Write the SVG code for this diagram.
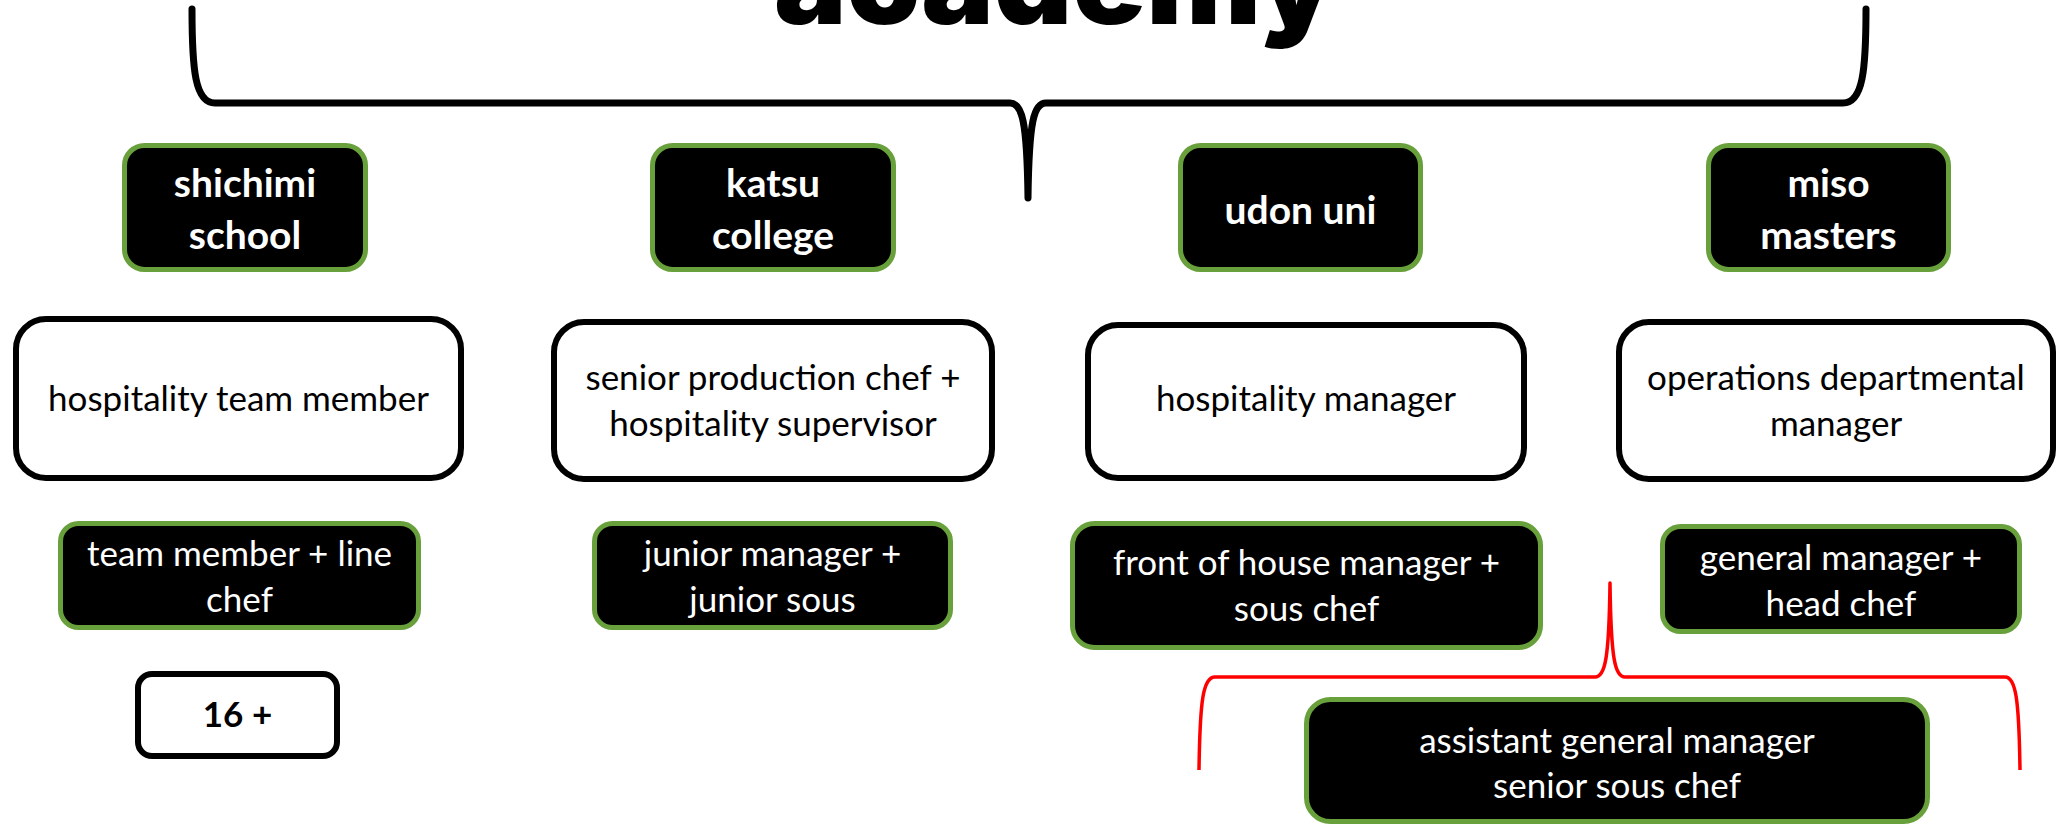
<svg xmlns="http://www.w3.org/2000/svg" width="2059" height="826" viewBox="0 0 2059 826">
<style>
.dk{fill:#000;stroke:#68a03c;stroke-width:5}
.wt{fill:#fff;stroke:#000;stroke-width:6}
.hd{font-family:Lato,"Liberation Sans",sans-serif;font-weight:700;font-size:39px;fill:#fff;text-anchor:middle}
.lw{font-family:Lato,"Liberation Sans",sans-serif;font-size:35px;fill:#fff;text-anchor:middle}
.lk{font-family:Lato,"Liberation Sans",sans-serif;font-size:35px;fill:#000;text-anchor:middle}
.bk{font-family:Lato,"Liberation Sans",sans-serif;font-weight:700;font-size:35px;fill:#000;text-anchor:middle}
.title{font-family:Inter,"Liberation Sans",sans-serif;font-weight:900;font-size:120px;fill:#000;text-anchor:middle}
</style>
<rect width="2059" height="826" fill="#fff"/>
<text class="title" x="1055" y="24" textLength="562" lengthAdjust="spacingAndGlyphs">academy</text>
<g id="connectors" fill="none" stroke-linecap="round" stroke-linejoin="round">
<path d="M192,9 C192,70 195,103 215,103 L1010,103 C1022,103 1027,120 1028,198 C1029,120 1034,103 1046,103 L1843,103 C1863,103 1866,70 1866,9" stroke="#000" stroke-width="7"/>
<path d="M1199,770 C1200,700 1203,677 1215,677 L1595,677 C1605,677 1609,660 1610,583 C1611,660 1615,677 1625,677 L2005,677 C2016,677 2019,700 2020,770" stroke="#ff0000" stroke-width="3.5" stroke-linecap="butt"/>
</g>
<g id="shichimi">
<rect class="dk" x="124.5" y="145.5" width="241" height="124" rx="20"/>
<text class="hd" x="245" y="197">shichimi</text>
<text class="hd" x="245" y="249">school</text>
</g>
<g id="katsu">
<rect class="dk" x="652.5" y="145.5" width="241" height="124" rx="20"/>
<text class="hd" x="773" y="197">katsu</text>
<text class="hd" x="773" y="249">college</text>
</g>
<g id="udon">
<rect class="dk" x="1180.5" y="145.5" width="240" height="124" rx="20"/>
<text class="hd" x="1300.5" y="224">udon uni</text>
</g>
<g id="miso">
<rect class="dk" x="1708.5" y="145.5" width="240" height="124" rx="20"/>
<text class="hd" x="1828.5" y="197">miso</text>
<text class="hd" x="1828.5" y="249">masters</text>
</g>
<g id="hosp-team">
<rect class="wt" x="16" y="319" width="445" height="159" rx="30"/>
<text class="lk" x="238.5" y="411">hospitality team member</text>
</g>
<g id="senior-prod">
<rect class="wt" x="554" y="322" width="438" height="157" rx="30"/>
<text class="lk" x="773" y="390">senior production chef +</text>
<text class="lk" x="773" y="436">hospitality supervisor</text>
</g>
<g id="hosp-mgr">
<rect class="wt" x="1088" y="325" width="436" height="153" rx="30"/>
<text class="lk" x="1306" y="411">hospitality manager</text>
</g>
<g id="ops-mgr">
<rect class="wt" x="1619" y="322" width="434" height="157" rx="30"/>
<text class="lk" x="1836" y="390">operations departmental</text>
<text class="lk" x="1836" y="436">manager</text>
</g>
<g id="team-line">
<rect class="dk" x="60.5" y="523.5" width="358" height="104" rx="18"/>
<text class="lw" x="239.5" y="566">team member + line</text>
<text class="lw" x="239.5" y="612">chef</text>
</g>
<g id="junior">
<rect class="dk" x="594.5" y="523.5" width="356" height="104" rx="18"/>
<text class="lw" x="772.5" y="566">junior manager +</text>
<text class="lw" x="772.5" y="612">junior sous</text>
</g>
<g id="foh">
<rect class="dk" x="1072.5" y="523.5" width="468" height="124" rx="22"/>
<text class="lw" x="1306.5" y="575">front of house manager +</text>
<text class="lw" x="1306.5" y="621">sous chef</text>
</g>
<g id="gm">
<rect class="dk" x="1662.5" y="526.5" width="357" height="105" rx="18"/>
<text class="lw" x="1841" y="570">general manager +</text>
<text class="lw" x="1841" y="616">head chef</text>
</g>
<g id="age16">
<rect class="wt" x="138" y="674" width="199" height="82" rx="14"/>
<text class="bk" x="237.5" y="727">16 +</text>
</g>
<g id="agm">
<rect class="dk" x="1306.5" y="699.5" width="621" height="122" rx="24"/>
<text class="lw" x="1617" y="753">assistant general manager</text>
<text class="lw" x="1617" y="798">senior sous chef</text>
</g>
</svg>
